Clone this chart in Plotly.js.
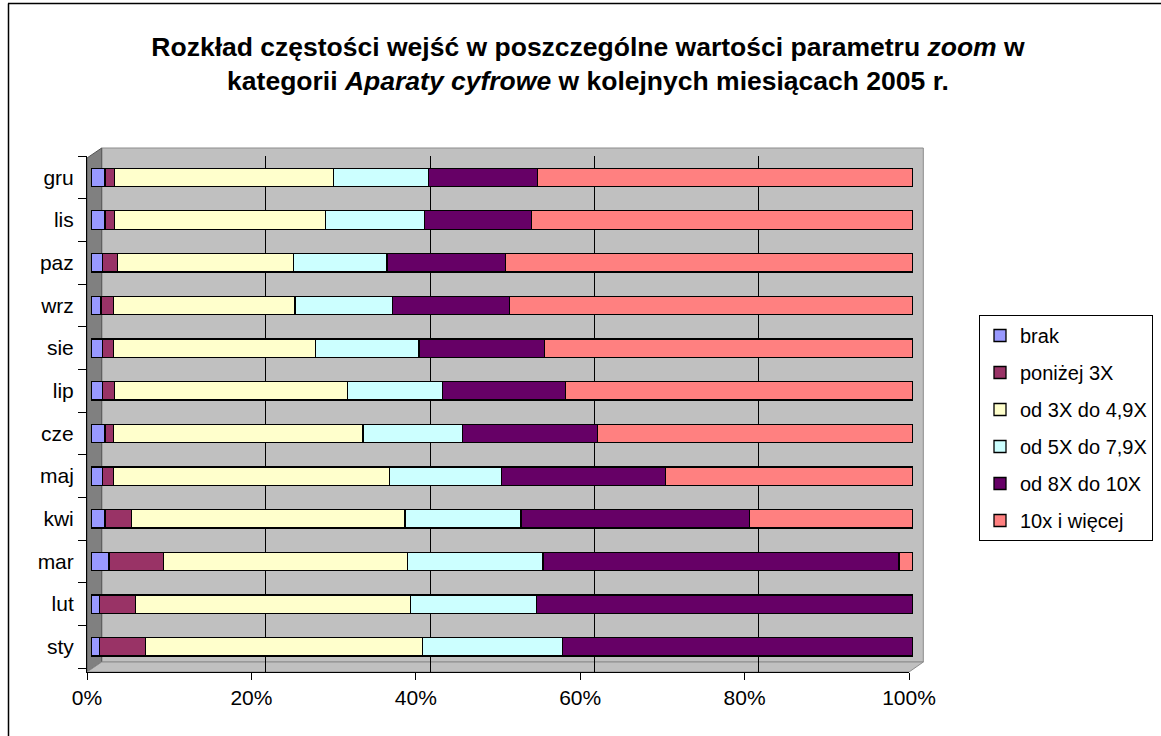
<!DOCTYPE html>
<html>
<head>
<meta charset="utf-8">
<script src="https://cdn.plot.ly/plotly-3.0.1.min.js"></script>
<style>html,body{margin:0;padding:0;background:#fff;}#chart{width:1161px;height:736px;}</style>
</head>
<body>
<div id="chart"></div>
<script>
// ---- data (percent shares per month) ----
const months  = ['sty','lut','mar','kwi','maj','cze','lip','sie','wrz','paz','lis','gru'];
const brak    = [1.0, 1.0, 2.2, 1.7, 1.4, 1.7, 1.4, 1.4, 1.2, 1.4, 1.7, 1.7];
const ponizej = [5.6, 4.4, 6.6, 3.2, 1.3, 1.0, 1.5, 1.3, 1.5, 1.8, 1.2, 1.2];
const od3     = [33.7,33.5,29.7,33.3,33.6,30.4,28.3,24.6,22.1,21.4,25.6,26.6];
const od5     = [17.1,15.3,16.5,14.1,13.6,12.1,11.6,12.6,11.9,11.4,12.1,11.6];
const od8     = [42.6,45.8,43.3,27.8,20.0,16.4,14.9,15.3,14.2,14.4,13.0,13.2];
const wiecej  = [0.0, 0.0, 1.7, 19.9,30.1,38.4,42.3,44.8,49.1,49.6,46.4,45.7];
const seriesNames = ['brak','poniżej 3X','od 3X do 4,9X','od 5X do 7,9X','od 8X do 10X','10x i więcej'];
const xTicks = [0,20,40,60,80,100];

// ---- styles ----
const colors = ['#9999FF','#993366','#FFFFCC','#CCFFFF','#660066','#FF8080'];
const FONT = 'Liberation Sans, Arial, sans-serif';

const W = 1161, H = 736;
const L = 87, R = 923, T = 156, B = 672;
const pw = R - L, ph = B - T;
const px = v => (v - L) / pw;
const py = v => (B - v) / ph;

const values = [brak, ponizej, od3, od5, od8, wiecej];
const traces = values.map((vals, i) => ({
  type: 'bar', orientation: 'h',
  x: vals, y: months,
  name: seriesNames[i],
  legendgroup: 'g' + i,
  xaxis: 'x2', yaxis: 'y',
  width: 0.43,
  marker: {color: colors[i], line: {color: '#000', width: 1.3}},
  hoverinfo: 'x+y+name'
}));
// empty helper traces so that the back-wall grid axis and the front label axis get drawn
traces.unshift({type: 'scatter', x: [], y: [], xaxis: 'x', yaxis: 'y', showlegend: false, hoverinfo: 'skip'});
traces.push({type: 'scatter', x: [], y: [], xaxis: 'x3', yaxis: 'y', showlegend: false, hoverinfo: 'skip'});

const shapes = [
  // back wall
  {type:'rect', xref:'paper', yref:'paper', layer:'below',
   x0:px(101.7), x1:px(923.3), y0:py(662), y1:py(148),
   fillcolor:'#C0C0C0', line:{color:'#8c8c8c', width:1}},
  // left side wall
  {type:'path', xref:'paper', yref:'paper', layer:'below',
   path:`M ${px(87)},${py(158)} L ${px(101.7)},${py(148)} L ${px(101.7)},${py(662)} L ${px(87)},${py(672)} Z`,
   fillcolor:'#808080', line:{color:'#555', width:1}},
  // floor
  {type:'path', xref:'paper', yref:'paper', layer:'below',
   path:`M ${px(87)},${py(672)} L ${px(909)},${py(672)} L ${px(923.3)},${py(662)} L ${px(101.7)},${py(662)} Z`,
   fillcolor:'#C0C0C0', line:{color:'#8c8c8c', width:1}},
  // outer chart frame (top and left edges)
  {type:'line', xref:'paper', yref:'paper', layer:'above',
   x0:px(8), x1:px(1161), y0:py(3.5), y1:py(3.5), line:{color:'#000', width:1.5}},
  {type:'line', xref:'paper', yref:'paper', layer:'above',
   x0:px(8.5), x1:px(8.5), y0:py(3.5), y1:py(736), line:{color:'#000', width:1.5}}
];

const layout = {
  width: W, height: H,
  margin: {l: L, r: W - R, t: T, b: H - B, pad: 0, autoexpand: false},
  paper_bgcolor: '#ffffff',
  plot_bgcolor: 'rgba(0,0,0,0)',
  barmode: 'stack',
  barnorm: 'percent',
  font: {family: FONT, size: 21, color: '#000'},
  title: {
    text: '<b>Rozkład częstości wejść w poszczególne wartości parametru <i>zoom</i> w<br>kategorii <i>Aparaty cyfrowe</i> w kolejnych miesiącach 2005 r.</b>',
    font: {family: FONT, size: 26.5, color: '#000'},
    x: 588 / W, xanchor: 'center', xref: 'container',
    y: 1 - 55.5 / H, yanchor: 'middle', yref: 'container'
  },
  // grid axis (back wall)
  xaxis: {
    domain: [px(101.7), 1], range: [0, 100], anchor: 'y',
    showgrid: true, gridcolor: '#000', gridwidth: 1, tickvals: xTicks,
    showticklabels: false, ticks: '', showline: false, zeroline: false,
    fixedrange: true
  },
  // bar axis
  xaxis2: {
    domain: [px(91), px(913)], range: [0, 100], anchor: 'y',
    showgrid: false, showticklabels: false, ticks: '', showline: false, zeroline: false,
    fixedrange: true
  },
  // front axis with labels
  xaxis3: {
    domain: [0, px(909)], range: [0, 100], anchor: 'y',
    tickvals: xTicks, ticktext: xTicks.map(v => v + '%'),
    showgrid: false, zeroline: false,
    showline: true, linecolor: '#000', linewidth: 1,
    ticks: 'outside', ticklen: 7, tickcolor: '#000', tickwidth: 1,
    tickfont: {family: FONT, size: 21, color: '#000'},
    fixedrange: true
  },
  yaxis: {
    anchor: 'x3',
    type: 'category', categoryorder: 'array', categoryarray: months,
    range: [-0.59, 11.5],
    showgrid: false, zeroline: false,
    showline: true, linecolor: '#000', linewidth: 1,
    ticks: 'outside', tickson: 'boundaries', ticklen: 8, tickcolor: '#000', tickwidth: 1,
    ticklabelstandoff: 8,
    tickfont: {family: FONT, size: 21, color: '#000'},
    fixedrange: true
  },
  showlegend: true,
  legend: {
    x: 979 / W, xanchor: 'left', y: 1 - 315 / H, yanchor: 'top',
    xref: 'container', yref: 'container',
    bgcolor: '#fff', bordercolor: '#000', borderwidth: 1,
    traceorder: 'grouped', tracegroupgap: 8,
    itemwidth: 30,
    font: {family: FONT, size: 20, color: '#000'}
  },
  shapes: shapes
};

Plotly.newPlot('chart', traces, layout, {displayModeBar: false, staticPlot: true});
</script>
</body>
</html>
